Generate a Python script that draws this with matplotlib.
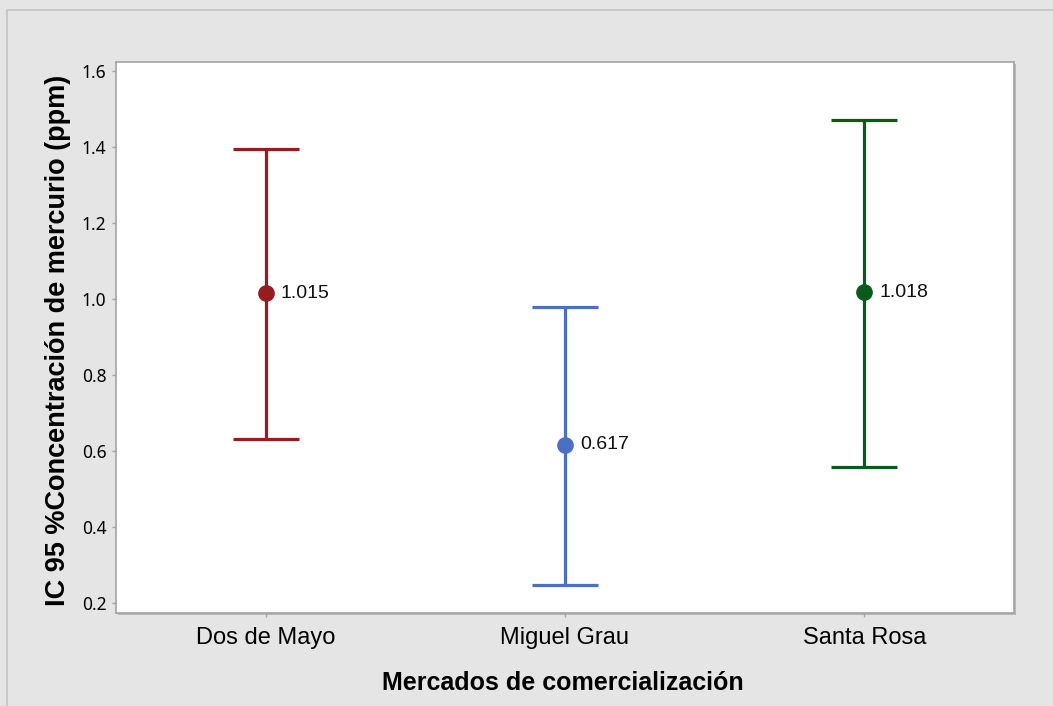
import matplotlib.pyplot as plt
from matplotlib.patches import Rectangle

# 95% confidence intervals of mercury concentration per market
mercados = ["Dos de Mayo", "Miguel Grau", "Santa Rosa"]
medias = [1.015, 0.617, 1.018]
limite_inf = [0.632, 0.248, 0.558]
limite_sup = [1.395, 0.979, 1.471]
colores = ["#981b1e", "#4a6fc4", "#0b5a1c"]

y_ticks = [0.2, 0.4, 0.6, 0.8, 1.0, 1.2, 1.4, 1.6]

W, H = 1053, 706
fig = plt.figure(figsize=(W / 100, H / 100), dpi=100)
fig.patch.set_facecolor("#e5e5e5")

# thin frame around the whole figure
fig.patches.append(Rectangle((7 / W, -0.05), 1.1, 1 - 10 / H + 0.05,
                             transform=fig.transFigure, fill=False,
                             edgecolor="#c4c4c4", linewidth=1.2, zorder=0))

ax_pos = [116 / W, 1 - 613 / H, 898 / W, 551 / H]

# soft shadow behind the plot area
fig.patches.append(Rectangle((ax_pos[0] + 2 / W, ax_pos[1] - 2 / H), ax_pos[2], ax_pos[3],
                             transform=fig.transFigure, facecolor="#b8b8b8",
                             edgecolor="none", zorder=0))

ax = fig.add_axes(ax_pos)
ax.set_zorder(2)
ax.set_facecolor("white")

for i, (m, lo, hi, c) in enumerate(zip(medias, limite_inf, limite_sup, colores)):
    x = i + 1
    ax.errorbar(x, m, yerr=[[m - lo], [hi - m]], fmt="o", color=c,
                ecolor=c, elinewidth=2.3, capsize=23.5, capthick=2.3,
                markersize=11, zorder=3)
    ax.annotate(f"{m:.3f}", (x, m), xytext=(11, 0), textcoords="offset points",
                va="center", ha="left", fontsize=14,
                family="Liberation Sans", color="#111111")

ax.set_xlim(0.5, 3.5)
ax.set_ylim(0.174, 1.624)
ax.set_xticks([1, 2, 3])
ax.set_xticklabels(mercados, fontsize=17, family="Liberation Sans")
ax.set_yticks(y_ticks)
ax.set_yticklabels([f"{v:.1f}" for v in y_ticks], fontsize=12.5, family="Noto Sans")

for s in ax.spines.values():
    s.set_color("#a3a3a3")
    s.set_linewidth(1.2)
ax.tick_params(axis="both", direction="out", length=3, width=1, color="#a3a3a3")
ax.tick_params(axis="x", pad=7)
ax.tick_params(axis="y", pad=4)

ax.set_xlabel("Mercados de comercialización", fontsize=18, fontweight="bold",
              family="Liberation Sans")
ax.xaxis.set_label_coords(0.498, -0.105)
ax.set_ylabel("IC 95 %Concentración de mercurio (ppm)", fontsize=19.5,
              fontweight="bold", family="Liberation Sans")
ax.yaxis.set_label_coords(-0.05, 0.495)

plt.savefig("out.png", dpi=100, facecolor=fig.get_facecolor())
